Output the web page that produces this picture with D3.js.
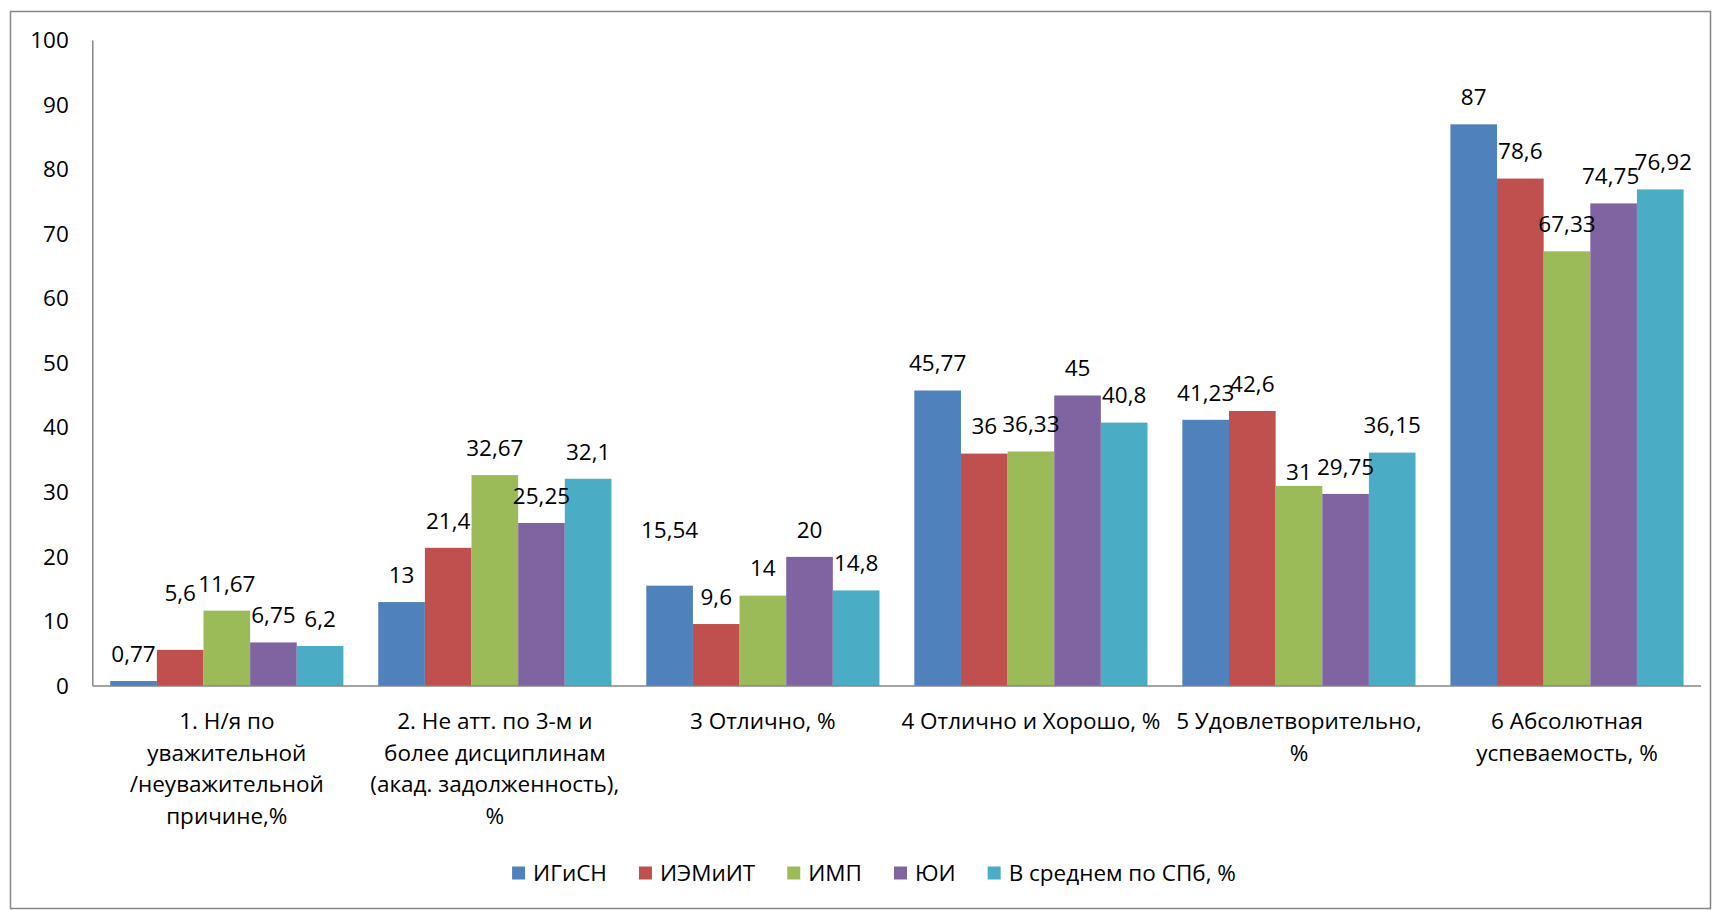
<!DOCTYPE html>
<html><head><meta charset="utf-8">
<script src="https://cdn.jsdelivr.net/npm/d3@7"></script>
<style>
html,body{margin:0;padding:0;background:#fff;}
svg text{font-family:"Open Sans","Noto Sans",sans-serif;fill:#000;}
</style></head>
<body>
<svg id="chart" width="1712" height="910"></svg>
<script>
// ---- data ----
const categories = [
  "1. Н/я по\nуважительной\n/неуважительной\nпричине,%",
  "2. Не атт. по 3-м и\nболее дисциплинам\n(акад. задолженность),\n%",
  "3 Отлично, %",
  "4 Отлично и Хорошо, %",
  "5 Удовлетворительно,\n%",
  "6 Абсолютная\nуспеваемость, %"
];
const seriesNames = ["ИГиСН", "ИЭМиИТ", "ИМП", "ЮИ", "В среднем по СПб, %"];
const igisn  = [0.77, 13, 15.54, 45.77, 41.23, 87];
const iemiit = [5.6, 21.4, 9.6, 36, 42.6, 78.6];
const imp    = [11.67, 32.67, 14, 36.33, 31, 67.33];
const yui    = [6.75, 25.25, 20, 45, 29.75, 74.75];
const spb    = [6.2, 32.1, 14.8, 40.8, 36.15, 76.92];
const yTicks = [0, 10, 20, 30, 40, 50, 60, 70, 80, 90, 100];

// ---- style ----
const colors = ["#4F81BD", "#C0504D", "#9BBB59", "#8064A2", "#4BACC6"];
const values = [igisn, iemiit, imp, yui, spb];
// manual label nudges (series index, category index, dx, dy) as in the original
const labelNudges = [[1,0,0,-30],[0,2,0,-29],[2,4,0,13],[4,5,3,0],[3,5,-3,0]];
const fontSize = 22.5;

const svg = d3.select("#chart");
svg.append("rect").attr("x",10.5).attr("y",11.5).attr("width",1700).attr("height",897)
  .attr("fill","#fff").attr("stroke","#868686").attr("stroke-width",1.5);

const plot = {left:92.8, right:1701, top:40.4, bottom:686};
const x = d3.scaleBand().domain(categories.map((c,i)=>i)).range([plot.left, plot.right]).padding(0);
const step = x.bandwidth();
const xi = d3.scaleBand().domain(seriesNames.map((s,i)=>i)).range([step*0.065, step*0.935]).padding(0);
const y = d3.scaleLinear().domain([0,100]).range([plot.bottom, plot.top]);

// y axis labels
const yAxis = d3.axisLeft(y).tickValues(yTicks).tickSize(0).tickPadding(24).tickFormat(d3.format("d"));
const gy = svg.append("g").attr("transform",`translate(${plot.left},0)`).call(yAxis);
gy.select(".domain").remove();
gy.selectAll("text").attr("font-size",fontSize).attr("font-family",null).attr("fill","#000");

// bars
const groups = svg.append("g").selectAll("g").data(categories).join("g")
  .attr("transform",(d,i)=>`translate(${x(i)},0)`);
groups.each(function(c, ci){
  const g = d3.select(this);
  seriesNames.forEach((s, si)=>{
    const v = values[si][ci];
    g.append("rect").attr("x", xi(si)).attr("width", xi.bandwidth())
      .attr("y", y(v)).attr("height", y(0)-y(v)).attr("fill", colors[si]);
  });
});
// data labels
const fmt = v => String(v).replace(".", ",");
groups.each(function(c, ci){
  const g = d3.select(this);
  seriesNames.forEach((s, si)=>{
    const v = values[si][ci];
    const n = labelNudges.find(a=>a[0]===si && a[1]===ci) || [0,0,0,0];
    g.append("text").attr("x", xi(si)+xi.bandwidth()/2 + n[2]).attr("y", y(v) - 27 + n[3])
      .attr("dy","0.35em").attr("text-anchor","middle").attr("font-size",fontSize).text(fmt(v));
  });
});

// axes lines
svg.append("line").attr("x1",plot.left).attr("x2",plot.left).attr("y1",plot.top).attr("y2",plot.bottom)
  .attr("stroke","#868686").attr("stroke-width",1.5);
svg.append("line").attr("x1",plot.left).attr("x2",plot.right).attr("y1",plot.bottom).attr("y2",plot.bottom)
  .attr("stroke","#868686").attr("stroke-width",1.5);

// category labels
categories.forEach((c, ci)=>{
  const t = svg.append("text").attr("text-anchor","middle").attr("font-size",fontSize)
    .attr("x", x(ci)+step/2).attr("y", 721);
  c.split("\n").forEach((line, li)=>{
    t.append("tspan").attr("x", x(ci)+step/2).attr("y", 721 + li*31.8).attr("dy","0.35em").text(line);
  });
});

// legend
const lg = svg.append("g");
let cx = 0;
seriesNames.forEach((s, si)=>{
  const item = lg.append("g").attr("transform",`translate(${cx},0)`);
  item.append("rect").attr("x",0).attr("y",-6.5).attr("width",13).attr("height",13).attr("fill",colors[si]);
  const t = item.append("text").attr("x",21).attr("y",0).attr("dy","0.35em").attr("font-size",fontSize).text(s);
  cx += 21 + t.node().getComputedTextLength() + 32;
});
const totalW = cx - 32;
lg.attr("transform",`translate(${874 - totalW/2},873)`);
</script>
</body></html>
